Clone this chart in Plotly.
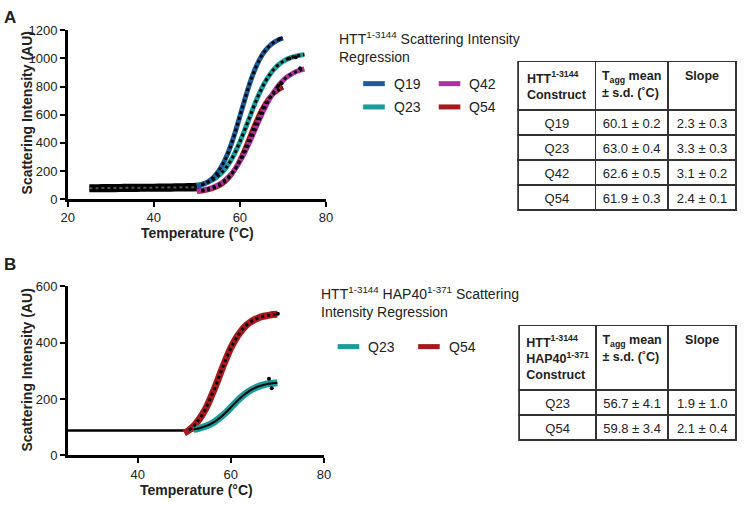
import plotly.graph_objects as go

W, H = 745, 505
FONT = "Liberation Sans, Arial, sans-serif"
INK = "#222222"
NB = "\u00a0"

def px(x):
    return x / W

def py(y):
    return 1 - y / H

# ---------------- Colours ----------------
C_Q19 = "#1b5c9e"
C_Q23 = "#1a9c9c"
C_Q42 = "#b1309f"
C_Q54 = "#a8191b"

# ---------------- Panel A data ----------------
tA_base = [25, 27, 29, 31, 33, 35, 37, 39, 41, 43, 45, 47, 49, 51]
baseA_rep1 = [60, 60, 61, 61, 62, 62, 63, 63, 64, 64, 65, 66, 66, 67]
baseA_rep2 = [78, 78, 79, 79, 80, 80, 81, 81, 82, 82, 83, 84, 85, 86]
baseA_rep3 = [95, 95, 96, 96, 97, 97, 98, 98, 99, 100, 101, 102, 104, 106]

tA_short = [50, 51, 52, 53, 54, 55, 56, 57, 58, 59, 60, 61, 62, 63, 64, 65, 66, 67, 68, 69, 70]
tA_long = [50, 51, 52, 53, 54, 55, 56, 57, 58, 59, 60, 61, 62, 63, 64, 65, 66, 67, 68, 69, 70,
           71, 72, 73, 74, 75]
q19_A = [91, 100, 113, 132, 160, 197, 247, 311, 391, 485, 588, 694, 794, 883, 956, 1015,
         1059, 1092, 1116, 1133, 1144]
q23_A = [97, 104, 113, 126, 142, 165, 194, 233, 280, 338, 406, 481, 560, 640, 715, 782,
         839, 887, 926, 955, 978, 995, 1007, 1016, 1023, 1027]
q42_A = [58, 62, 69, 77, 88, 103, 122, 147, 179, 219, 267, 323, 386, 455, 526, 595, 660,
         717, 767, 809, 842, 869, 889, 905, 916, 925]
q54_A = [55, 58, 63, 70, 80, 93, 112, 138, 174, 219, 277, 344, 418, 494, 566, 630, 683,
         724, 755, 778, 795]
strayA_t = [69.3, 71.5, 73.0, 74.0, 69.7, 69.0]
strayA_v = [1140, 1000, 1008, 931, 822, 808]

# ---------------- Panel B data ----------------
tB_base = [25, 27, 29, 31, 33, 35, 37, 39, 41, 43, 45, 47, 49, 51, 52]
baseB = [88, 88, 88, 88, 88, 88, 88, 88, 88, 88, 88, 88, 88, 88, 88]
tB_red = [50, 51, 52, 53, 54, 55, 56, 57, 58, 59, 60, 61, 62, 63, 64, 65, 66, 67, 68, 69, 70]
q54_B = [79, 89, 103, 123, 148, 179, 217, 258, 302, 343, 381, 412, 437, 457, 471, 481, 489,
         494, 497, 500, 501]
tB_teal = [52, 53, 54, 55, 56, 57, 58, 59, 60, 61, 62, 63, 64, 65, 66, 67, 68, 69, 70]
q23_B = [92, 95, 100, 106, 114, 125, 138, 153, 170, 187, 203, 217, 229, 238, 245, 250, 254,
         256, 258]
strayB_t = [68.2, 68.8, 70.1]
strayB_v = [272, 238, 503]

# ---------------- Table data ----------------
tblA_header = ["<b>HTT<sup>1-3144</sup><br>Construct</b>",
               "<b>T<sub>agg</sub> mean<br>± s.d. (˚C)</b>",
               "<b>Slope</b>"]
tblA_construct = ["Q19", "Q23", "Q42", "Q54"]
tblA_tagg = ["60.1 ± 0.2", "63.0 ± 0.4", "62.6 ± 0.5", "61.9 ± 0.3"]
tblA_slope = ["2.3 ± 0.3", "3.3 ± 0.3", "3.1 ± 0.2", "2.4 ± 0.1"]

tblB_header = ["<b>HTT<sup>1-3144</sup><br>HAP40<sup>1-371</sup><br>Construct</b>",
               "<b>T<sub>agg</sub> mean<br>± s.d. (˚C)</b>",
               "<b>Slope</b>"]
tblB_construct = ["Q23", "Q54"]
tblB_tagg = ["56.7 ± 4.1", "59.8 ± 3.4"]
tblB_slope = ["1.9 ± 1.0", "2.1 ± 0.4"]

def nobreak(col):
    return [s.replace(" ", NB) for s in col]

fig = go.Figure()

def line(x, y, color, width, xa="x", ya="y", dash="solid"):
    fig.add_trace(go.Scatter(x=x, y=y, mode="lines", xaxis=xa, yaxis=ya,
                             line=dict(color=color, width=width, dash=dash, shape="spline"),
                             hoverinfo="skip", showlegend=False))

# Panel A
for rep in (baseA_rep1, baseA_rep2, baseA_rep3):
    line(tA_base, rep, "black", 3.2)
line(tA_base, baseA_rep2, "#555555", 2, dash="dot")
line(tA_short, q54_A, C_Q54, 5)
line(tA_long, q42_A, C_Q42, 5)
line(tA_long, q23_A, C_Q23, 5)
line(tA_short, q19_A, C_Q19, 5)
line(tA_short[1:], q54_A[1:], "black", 3, dash="dot")
line(tA_long[1:], q42_A[1:], "black", 3, dash="dot")
line(tA_long[1:], q23_A[1:], "black", 3, dash="dot")
line(tA_short[1:], q19_A[1:], "black", 3, dash="dot")
fig.add_trace(go.Scatter(x=strayA_t, y=strayA_v, mode="markers", xaxis="x", yaxis="y",
                         marker=dict(color="black", size=4), hoverinfo="skip", showlegend=False))

# Panel B
line(tB_base, baseB, "black", 2.5, xa="x2", ya="y2")
line(tB_red, q54_B, C_Q54, 7, xa="x2", ya="y2")
line(tB_teal, q23_B, C_Q23, 7, xa="x2", ya="y2")
line(tB_red[1:], q54_B[1:], "black", 3, xa="x2", ya="y2", dash="dot")
line(tB_teal, q23_B, "black", 2, xa="x2", ya="y2")
fig.add_trace(go.Scatter(x=strayB_t, y=strayB_v, mode="markers", xaxis="x2", yaxis="y2",
                         marker=dict(color="black", size=4), hoverinfo="skip", showlegend=False))

# Tables
def table(dom_x, dom_y, header, cols, hh):
    fig.add_trace(go.Table(
        domain=dict(x=dom_x, y=dom_y),
        columnwidth=[79, 74, 70],
        header=dict(values=header, height=hh, align="center",
                    line=dict(color="#333333", width=1.5), fill=dict(color="white"),
                    font=dict(family=FONT, size=12.5, color=INK)),
        cells=dict(values=[nobreak(c) for c in cols], height=25, align="center",
                   line=dict(color="#333333", width=1.5), fill=dict(color="white"),
                   font=dict(family=FONT, size=13, color=INK))))

table([px(521), px(744)], [py(215), py(56)], tblA_header,
      [tblA_construct, tblA_tagg, tblA_slope], 40)
table([px(522), px(744)], [py(450), py(328)], tblB_header,
      [tblB_construct, tblB_tagg, tblB_slope], 53)

axis_common = dict(showline=True, linecolor="black", linewidth=2.5, ticks="outside",
                   ticklen=5, tickwidth=2, tickcolor="black", showgrid=False, zeroline=False,
                   tickfont=dict(family=FONT, size=13, color=INK), fixedrange=True)

fig.update_layout(
    width=W, height=H,
    margin=dict(l=0, r=0, t=0, b=0),
    paper_bgcolor="white", plot_bgcolor="white",
    showlegend=False,
    font=dict(family=FONT, color=INK),
    xaxis=dict(domain=[px(62), px(325)], range=[20, 80], tickvals=[20, 40, 60, 80],
               anchor="y", **axis_common),
    yaxis=dict(domain=[py(198), py(24)], range=[0, 1200],
               tickvals=[0, 200, 400, 600, 800, 1000, 1200], anchor="x", **axis_common),
    xaxis2=dict(domain=[px(62), px(323)], range=[25, 80], tickvals=[40, 60, 80],
                anchor="y2", **axis_common),
    yaxis2=dict(domain=[py(462), py(288)], range=[0, 600], tickvals=[0, 200, 400, 600],
                anchor="x2", **axis_common),
)

ann = []
def text(x, y, s, size=13, xanchor="left", yanchor="middle", angle=0):
    ann.append(dict(x=px(x), y=py(y), xref="paper", yref="paper", text=s, showarrow=False,
                    xanchor=xanchor, yanchor=yanchor, align="left", textangle=angle,
                    borderpad=0, font=dict(family=FONT, size=size, color=INK)))

# Panel labels
text(-4, 0, "<b>A</b>", size=17, yanchor="top")
text(-4, 255, "<b>B</b>", size=17, yanchor="top")

# Axis titles
text(20, 109, "<b>Scattering Intensity (AU)</b>", size=14, xanchor="center", angle=-90)
text(194, 233, "<b>Temperature (°C)</b>", size=14, xanchor="center")
text(20, 374, "<b>Scattering Intensity (AU)</b>", size=14, xanchor="center", angle=-90)
text(193, 498, "<b>Temperature (°C)</b>", size=14, xanchor="center")

# Legend A
text(337, 41, "HTT<sup>1-3144</sup> Scattering Intensity<br>Regression", size=14)
shapes = []
def leg(x0, y, color, label):
    shapes.append(dict(type="line", xref="paper", yref="paper", x0=px(x0), x1=px(x0 + 22),
                       y0=py(y), y1=py(y), line=dict(color=color, width=5)))
    text(x0 + 30, y, label, size=14)

leg(363, 79, C_Q19, "Q19")
leg(440, 79, C_Q42, "Q42")
leg(363, 103, C_Q23, "Q23")
leg(440, 103, C_Q54, "Q54")

# Legend B
text(319, 304, "HTT<sup>1-3144</sup> HAP40<sup>1-371</sup> Scattering<br>Intensity Regression", size=14)
leg(337, 350, C_Q23, "Q23")
leg(419, 350, C_Q54, "Q54")

fig.update_layout(annotations=ann, shapes=shapes)

fig.write_html("out.html", config={"displayModeBar": False},
               post_script="document.body.style.margin='0';document.body.style.overflow='hidden';")
